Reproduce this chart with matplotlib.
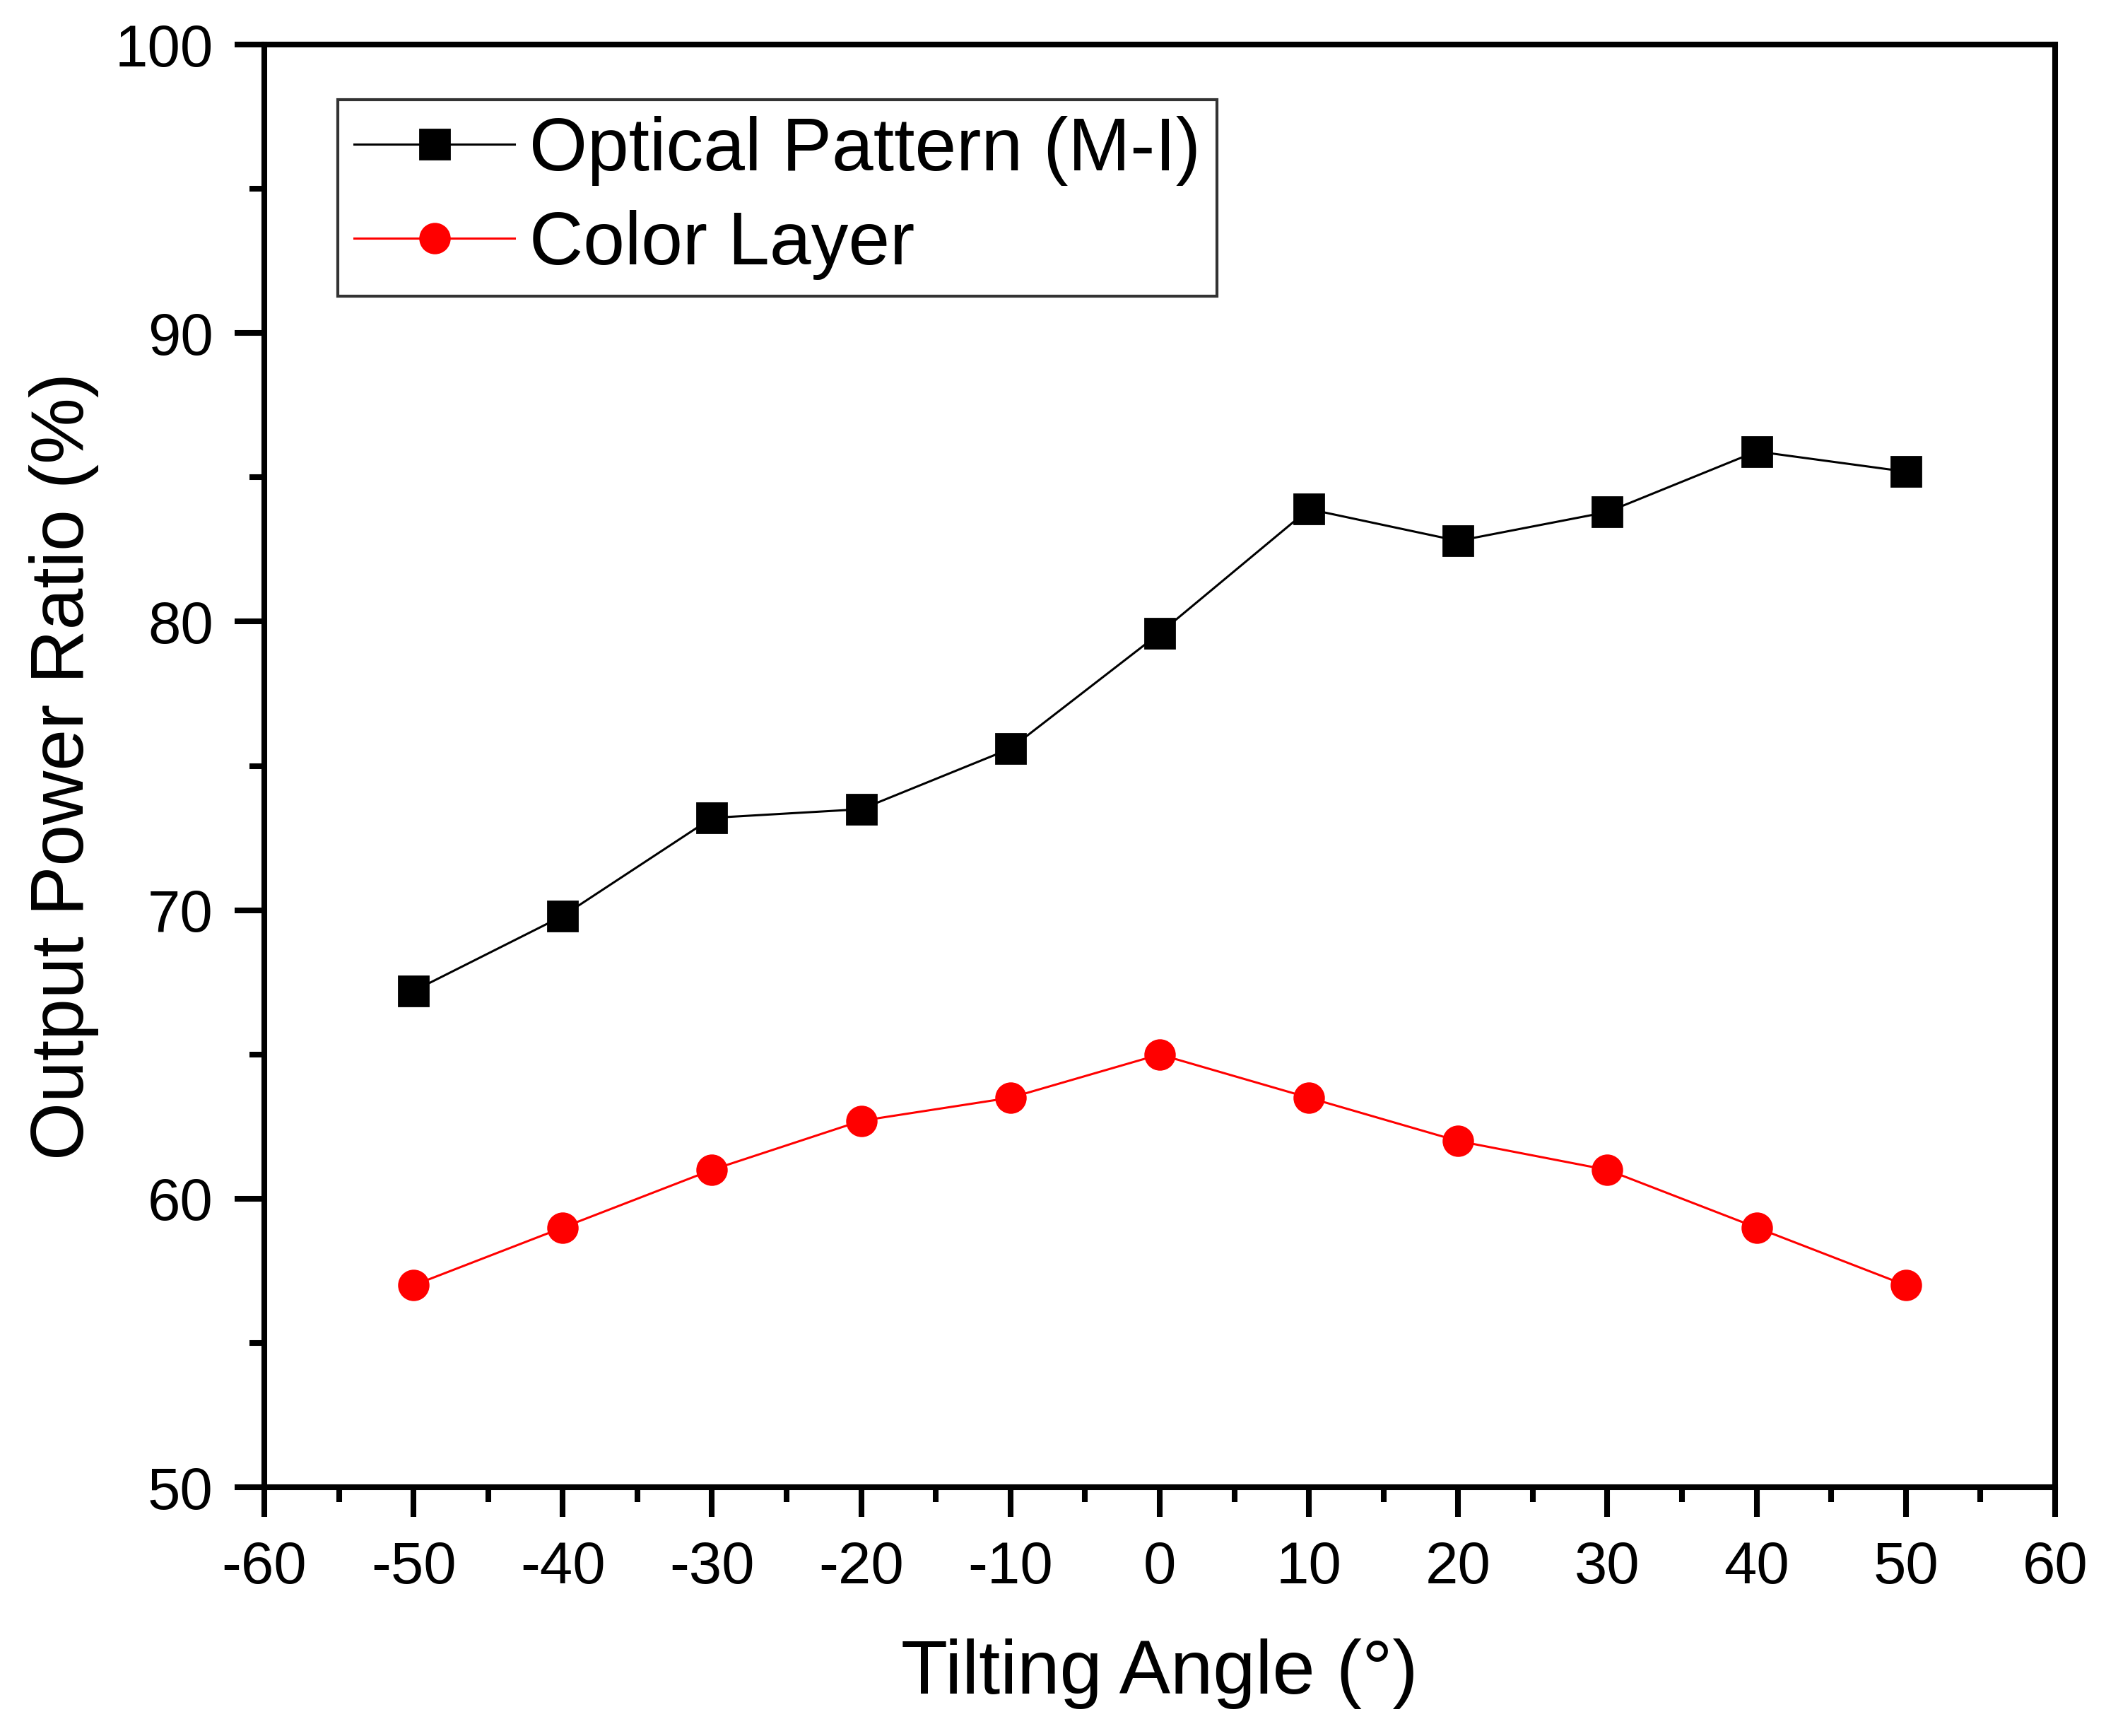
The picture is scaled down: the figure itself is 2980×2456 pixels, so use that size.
import matplotlib
matplotlib.use('Agg')
import matplotlib.pyplot as plt
from matplotlib.ticker import MultipleLocator

plt.rcParams['font.family'] = ['Liberation Sans', 'DejaVu Sans']
plt.rcParams['axes.unicode_minus'] = False

# data
angle = [-50, -40, -30, -20, -10, 0, 10, 20, 30, 40, 50]
optical = [67.2, 69.8, 73.2, 73.5, 75.6, 79.6, 83.9, 82.8, 83.8, 85.9, 85.2]
color_layer = [57.0, 59.0, 61.0, 62.7, 63.5, 65.0, 63.5, 62.0, 61.0, 59.0, 57.0]

fig = plt.figure(figsize=(14.9, 12.28), dpi=200)
ax = fig.add_axes([0.1255, 0.1433, 0.8503, 0.8310])

ax.plot(angle, optical, 'k-', marker='s', markersize=15, linewidth=1.1,
        label='Optical Pattern (M-I)')
ax.plot(angle, color_layer, '-', color='#ff0000', marker='o', markersize=15,
        linewidth=1.1, label='Color Layer')

ax.set_xlim(-60, 60)
ax.set_ylim(50, 100)
ax.xaxis.set_major_locator(MultipleLocator(10))
ax.xaxis.set_minor_locator(MultipleLocator(5))
ax.yaxis.set_major_locator(MultipleLocator(10))
ax.yaxis.set_minor_locator(MultipleLocator(5))

for s in ax.spines.values():
    s.set_linewidth(2.9)
ax.tick_params(which='major', direction='out', length=15, width=2.9,
               labelsize=30, top=False, right=False)
ax.tick_params(which='minor', direction='out', length=7.5, width=2.9,
               top=False, right=False)
ax.tick_params(axis='x', which='major', pad=12)
ax.tick_params(axis='y', which='major', pad=11)

ax.set_xlabel('Tilting Angle (°)', fontsize=39, labelpad=22)
ax.set_ylabel('Output Power Ratio (%)', fontsize=38, labelpad=8)

leg = ax.legend(loc='upper left', bbox_to_anchor=(0.041, 0.962), fontsize=38,
                frameon=True, fancybox=False, edgecolor='black',
                handlelength=2.15, handletextpad=0.2, borderpad=0.22,
                labelspacing=0.32, borderaxespad=0)
leg.get_frame().set_linewidth(1.5)

fig.savefig('out.png', dpi=200)
